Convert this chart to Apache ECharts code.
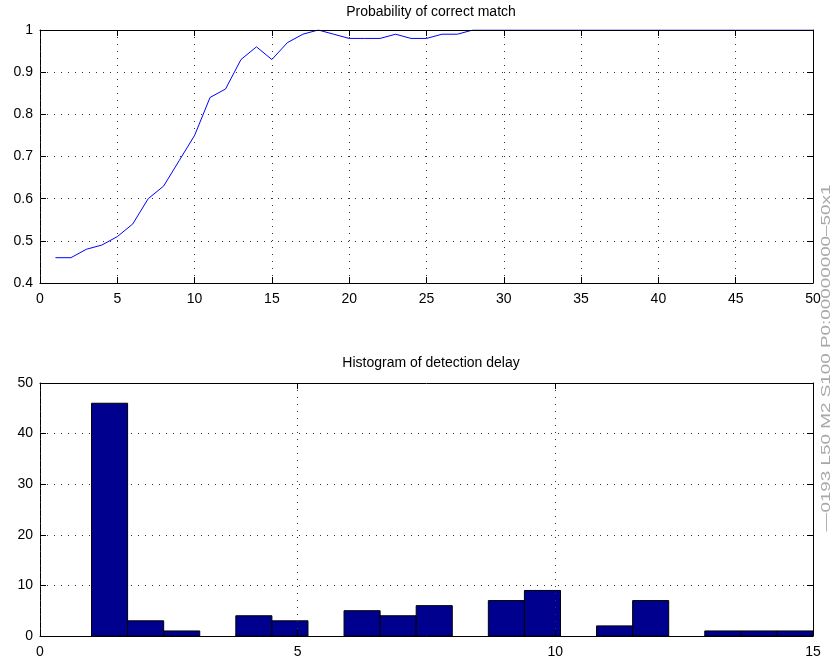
<!DOCTYPE html>
<html>
<head>
<meta charset="utf-8">
<script src="https://cdn.jsdelivr.net/npm/echarts@6/dist/echarts.min.js"></script>
<style>
  html, body { margin: 0; padding: 0; background: #fff; }
  #chart { width: 835px; height: 666px; }
</style>
</head>
<body>
<div id="chart"></div>
<script>
// Probability of a correct match after n observations (n = 1..50)
const matchSteps = [];
for (let n = 1; n <= 50; n++) matchSteps.push(n);
const matchProb = [
  0.46, 0.46, 0.48, 0.49, 0.51, 0.54, 0.60, 0.63, 0.69, 0.75,
  0.84, 0.86, 0.93, 0.96, 0.93, 0.97, 0.99, 1.00, 0.99, 0.98,
  0.98, 0.98, 0.99, 0.98, 0.98, 0.99, 0.99, 1.00, 1.00, 1.00,
  1.00, 1.00, 1.00, 1.00, 1.00, 1.00, 1.00, 1.00, 1.00, 1.00,
  1.00, 1.00, 1.00, 1.00, 1.00, 1.00, 1.00, 1.00, 1.00, 1.00
];

// Detection delay histogram: 20 bins of width 0.7 between 1 and 15
const binStart = 1;
const binWidth = 0.7;
const delayCounts = [46, 3, 1, 0, 4, 3, 0, 5, 4, 6, 0, 7, 9, 0, 2, 7, 0, 1, 1, 1];

const topTitle = 'Probability of correct match';
const bottomTitle = 'Histogram of detection delay';
const sideNote = '\u20140193 L50 M2 S100 P0:00000000\u201350x1';

const FONT = 'Liberation Sans, Arial, Helvetica, sans-serif';
const lineData = matchSteps.map((n, i) => [n, matchProb[i]]);
const histData = delayCounts.map((c, i) => [
  binStart + i * binWidth,
  binStart + (i + 1) * binWidth,
  c
]);

const dotted = { show: true, lineStyle: { color: '#333', width: 1, type: [1, 6] } };
const tickIn = { show: true, inside: true, length: 6, lineStyle: { color: '#000' } };
const frame = { show: true, onZero: false, lineStyle: { color: '#000', width: 1 } };
const label = { color: '#000', fontSize: 14, fontFamily: FONT };

function mainX(gridIndex, max, interval) {
  return {
    type: 'value', gridIndex, min: 0, max, interval, position: 'bottom', z: 5,
    axisLine: frame, axisTick: tickIn,
    axisLabel: Object.assign({ margin: 9 }, label),
    splitLine: dotted
  };
}
// Frame edge along the top, drawn above the series so the curve hides under it
function mirrorX(gridIndex, max, interval) {
  return {
    type: 'value', gridIndex, min: 0, max, interval, position: 'top', z: 5,
    axisLine: frame, axisTick: tickIn, axisLabel: { show: false }, splitLine: { show: false }
  };
}
function mainY(gridIndex, min, max, interval) {
  return {
    type: 'value', gridIndex, min, max, interval, position: 'left',
    axisLine: frame, axisTick: tickIn,
    axisLabel: Object.assign({ margin: 7 }, label),
    splitLine: dotted
  };
}
function mirrorY(gridIndex, min, max, interval) {
  return {
    type: 'value', gridIndex, min, max, interval, position: 'right', z: 5,
    axisLine: frame, axisTick: tickIn, axisLabel: { show: false }, splitLine: { show: false }
  };
}

const chart = echarts.init(document.getElementById('chart'), null, { renderer: 'canvas' });
chart.setOption({
  backgroundColor: '#fff',
  animation: false,
  textStyle: { fontFamily: FONT },
  title: [
    { text: topTitle, left: 426, top: 0, textAlign: 'center',
      textStyle: { fontSize: 14, fontWeight: 'normal', color: '#000', fontFamily: FONT } },
    { text: bottomTitle, left: 426, top: 351, textAlign: 'center',
      textStyle: { fontSize: 14, fontWeight: 'normal', color: '#000', fontFamily: FONT } }
  ],
  grid: [
    { left: 40, right: 22, top: 30, height: 253, containLabel: false },
    { left: 40, right: 22, top: 383, height: 253, containLabel: false }
  ],
  xAxis: [
    mainX(0, 50, 5), mirrorX(0, 50, 5),
    mainX(1, 15, 5), mirrorX(1, 15, 5)
  ],
  yAxis: [
    mainY(0, 0.4, 1, 0.1), mirrorY(0, 0.4, 1, 0.1),
    mainY(1, 0, 50, 10), mirrorY(1, 0, 50, 10)
  ],
  series: [
    {
      type: 'line', xAxisIndex: 0, yAxisIndex: 0, data: lineData,
      showSymbol: false, clip: true, z: 2,
      lineStyle: { color: '#0000ff', width: 1 }
    },
    {
      type: 'custom', xAxisIndex: 2, yAxisIndex: 2, data: histData, z: 2,
      encode: { x: [0, 1], y: 2 },
      renderItem: function (params, api) {
        const count = api.value(2);
        if (!count) return null;
        const p0 = api.coord([api.value(0), 0]);
        const p1 = api.coord([api.value(1), count]);
        return {
          type: 'rect',
          shape: { x: p0[0], y: p1[1], width: p1[0] - p0[0], height: p0[1] - p1[1] },
          style: { fill: '#00008f', stroke: '#000', lineWidth: 1 }
        };
      }
    }
  ],
  graphic: [
    {
      // vertical run-info stamp along the right edge, stretched along its length
      type: 'text', x: 826, y: 358, rotation: Math.PI / 2, scaleX: 1.45,
      style: {
        text: sideNote, fill: '#a8a8a8', font: '13px ' + FONT,
        align: 'center', verticalAlign: 'middle'
      }
    }
  ]
});
</script>
</body>
</html>
